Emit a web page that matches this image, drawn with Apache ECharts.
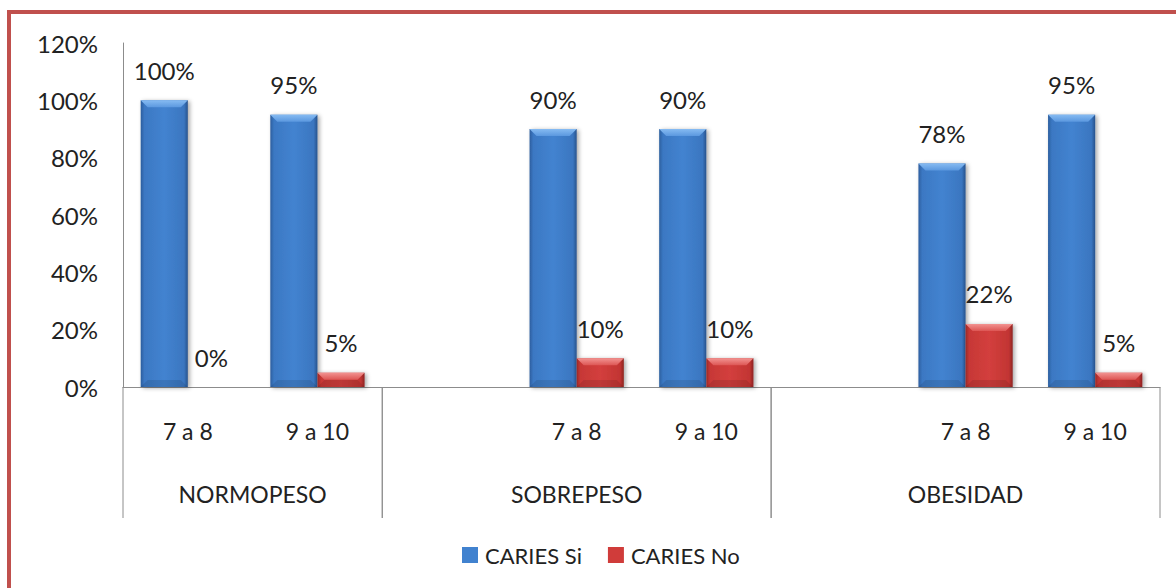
<!DOCTYPE html>
<html>
<head>
<meta charset="utf-8">
<script src="https://cdn.jsdelivr.net/npm/echarts@6/dist/echarts.min.js"></script>
<style>
  html, body { margin: 0; padding: 0; background: #fff; }
  #chart { width: 1176px; height: 588px; }
</style>
</head>
<body>
<div id="chart"></div>
<script>
// Age bands inside each weight group (blank slots separate the groups)
const categories = ['7 a 8', '9 a 10', '', '7 a 8', '9 a 10', '', '7 a 8', '9 a 10'];
// Weight groups and the first/last category slot each one covers
const groupNames = ['NORMOPESO', 'SOBREPESO', 'OBESIDAD'];
const groupFirst = [0, 2, 5];
const groupLast = [1, 4, 7];
// Share of children with / without caries (%)
const cariesSi = [100, 95, null, 90, 90, null, 78, 95];
const cariesNo = [0, 5, null, 10, 10, null, 22, 5];
const seriesNames = ['CARIES Si', 'CARIES No'];
// Value axis
const yMin = 0, yMax = 120, yStep = 20;

const FONT = 'Lato, "Open Sans", sans-serif';
const TEXT = '#222222';

const palettes = [
  {
    flat: '#4182cf',
    body: ['#2c5e9e', '#3b78c3', '#4383d0', '#3a76c0', '#27528c'],
    top: ['#86bbf2', '#5b98df']
  },
  {
    flat: '#d03c3a',
    body: ['#9a2927', '#c73836', '#d33f3d', '#c23533', '#8c2321'],
    top: ['#f29391', '#dd5654']
  }
];

function toPairs(arr) {
  const out = [];
  arr.forEach((v, i) => { if (v !== null) out.push([i, v]); });
  return out;
}

// Beveled column; slot 0 sits left of the category centre, slot 1 right of it
function barRenderer(slot) {
  const pal = palettes[slot];
  return function (params, api) {
    const idx = api.value(0);
    const val = api.value(1);
    const top = api.coord([idx, val]);
    const base = api.coord([idx, 0]);
    const band = api.size([1, 0])[0];
    const w = band / 2.75;
    const x = top[0] - w + slot * w;
    const y = top[1];
    const h = base[1] - y;
    const b = Math.min(7, h / 2);
    const children = [];
    if (h > 0.5) {
      children.push({
        type: 'rect',
        shape: { x: x, y: y, width: w, height: h },
        style: {
          fill: {
            type: 'linear', x: 0, y: 0, x2: 1, y2: 0,
            colorStops: [
              { offset: 0, color: pal.body[0] },
              { offset: 0.08, color: pal.body[1] },
              { offset: 0.5, color: pal.body[2] },
              { offset: 0.92, color: pal.body[3] },
              { offset: 1, color: pal.body[4] }
            ]
          },
          shadowBlur: 4,
          shadowOffsetX: 2,
          shadowOffsetY: 1,
          shadowColor: 'rgba(0,0,0,0.35)'
        }
      });
      children.push({
        type: 'polygon',
        shape: { points: [[x, y], [x + w, y], [x + w - b, y + b], [x + b, y + b]] },
        style: {
          fill: {
            type: 'linear', x: 0, y: 0, x2: 0, y2: 1,
            colorStops: [
              { offset: 0, color: pal.top[0] },
              { offset: 1, color: pal.top[1] }
            ]
          }
        }
      });
      children.push({
        type: 'polygon',
        shape: { points: [[x, y + h], [x + b, y + h - b], [x + w - b, y + h - b], [x + w, y + h]] },
        style: { fill: 'rgba(0,0,0,0.10)' }
      });
    }
    children.push({
      type: 'text',
      style: {
        x: x + w / 2,
        y: y - 30,
        text: val + '%',
        fill: TEXT,
        font: '24px ' + FONT,
        align: 'center',
        verticalAlign: 'middle'
      }
    });
    return { type: 'group', children: children };
  };
}

// Group captions and the dividers of the second axis level
function groupRenderer(params, api) {
  const first = api.value(0);
  const last = api.value(1);
  const p0 = api.coord([first, 0]);
  const p1 = api.coord([last, 0]);
  const band = api.size([1, 0])[0];
  const left = p0[0] - band / 2;
  const right = p1[0] + band / 2;
  const y0 = p0[1];
  const lineStyle = { stroke: '#8c8c8c', lineWidth: 1 };
  const children = [
    { type: 'line', shape: { x1: left, y1: y0, x2: left, y2: y0 + 131 }, style: lineStyle },
    { type: 'line', shape: { x1: right, y1: y0, x2: right, y2: y0 + 131 }, style: lineStyle },
    {
      type: 'text',
      style: {
        x: (left + right) / 2,
        y: y0 + 107,
        text: groupNames[params.dataIndex],
        fill: TEXT,
        font: '23px ' + FONT,
        align: 'center',
        verticalAlign: 'middle'
      }
    }
  ];
  return { type: 'group', children: children };
}

const chart = echarts.init(document.getElementById('chart'), null, { renderer: 'svg' });

chart.setOption({
  animation: false,
  backgroundColor: '#ffffff',
  textStyle: { fontFamily: FONT },
  grid: { left: 123, right: 16, top: 43, bottom: 201 },
  legend: {
    data: seriesNames,
    left: 462,
    top: 544,
    padding: 0,
    itemWidth: 16,
    itemHeight: 16,
    itemGap: 26,
    icon: 'rect',
    textStyle: { fontFamily: FONT, fontSize: 22, color: TEXT, padding: [0, 0, 0, 2] }
  },
  xAxis: {
    type: 'category',
    data: categories,
    boundaryGap: true,
    axisLine: { lineStyle: { color: '#8c8c8c', width: 1 } },
    axisTick: { show: false },
    axisLabel: { interval: 0, margin: 32, fontSize: 23, color: TEXT, fontFamily: FONT },
    splitLine: { show: false }
  },
  yAxis: {
    type: 'value',
    min: yMin,
    max: yMax,
    interval: yStep,
    axisLine: { show: true, lineStyle: { color: '#8c8c8c', width: 1 } },
    axisTick: { show: false },
    splitLine: { show: false },
    axisLabel: { formatter: '{value}%', margin: 25, fontSize: 24, color: TEXT, fontFamily: FONT }
  },
  graphic: [{
    type: 'rect',
    silent: true,
    z: 100,
    shape: { x: 9, y: 12, width: 1200, height: 620 },
    style: { fill: 'none', stroke: '#c0504d', lineWidth: 4 }
  }],
  series: [
    {
      name: seriesNames[0],
      type: 'custom',
      renderItem: barRenderer(0),
      itemStyle: { color: palettes[0].flat },
      encode: { x: 0, y: 1 },
      data: toPairs(cariesSi),
      clip: false,
      z: 3
    },
    {
      name: seriesNames[1],
      type: 'custom',
      renderItem: barRenderer(1),
      itemStyle: { color: palettes[1].flat },
      encode: { x: 0, y: 1 },
      data: toPairs(cariesNo),
      clip: false,
      z: 3
    },
    {
      name: 'grupos',
      type: 'custom',
      renderItem: groupRenderer,
      silent: true,
      encode: { x: [0, 1], y: 2 },
      data: groupNames.map((g, i) => [groupFirst[i], groupLast[i], 0]),
      clip: false,
      z: 2
    }
  ]
});
</script>
</body>
</html>
